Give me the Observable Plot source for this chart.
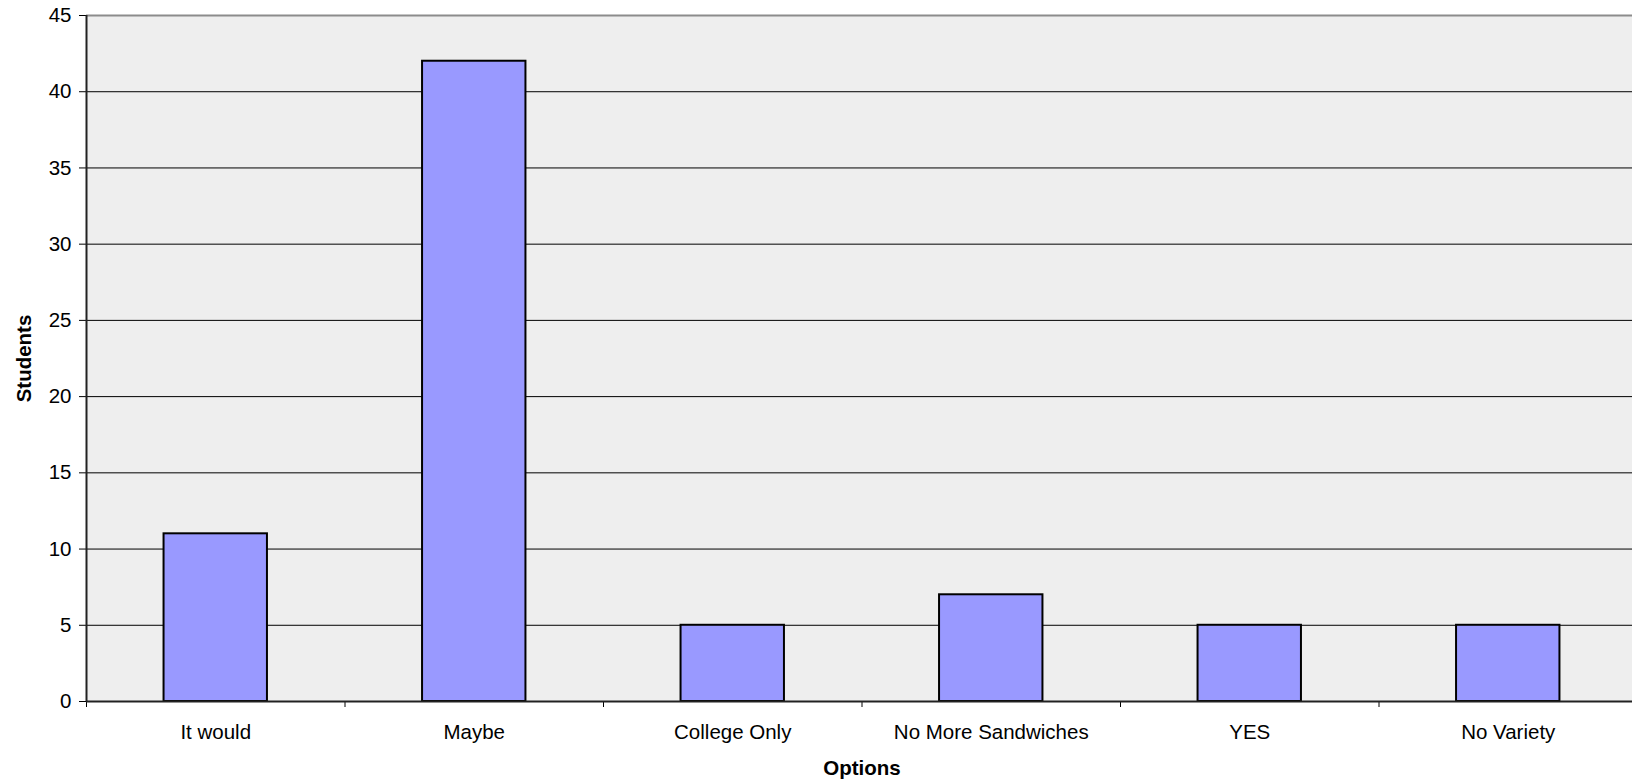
<!DOCTYPE html>
<html><head><meta charset="utf-8">
<script src="https://cdn.jsdelivr.net/npm/d3@7"></script>
<script src="https://cdn.jsdelivr.net/npm/@observablehq/plot@0.6"></script>
<style>html,body{margin:0;padding:0;background:#fff;overflow:hidden;} svg{max-width:none !important;}</style>
</head><body><div id="chart"></div>
<script>
const categories = ["It would", "Maybe", "College Only", "No More Sandwiches", "YES", "No Variety"];
const students = [11, 42, 5, 7, 5, 5];
const yTicks = [0, 5, 10, 15, 20, 25, 30, 35, 40, 45];
const gridValues = [5, 10, 15, 20, 25, 30, 35, 40];
const xLabel = "Options";
const yLabel = "Students";

const data = categories.map((c, i) => ({category: c, index: i, students: students[i]}));
const boundaries = d3.range(categories.length + 1);
const centers = categories.map((c, i) => i + 0.5);
const fs = 20.5;

const chart = Plot.plot({
  width: 1640, height: 783,
  marginTop: 15, marginBottom: 82, marginLeft: 86, marginRight: 3,
  style: {fontFamily: "'Liberation Sans', Arial, sans-serif", fontSize: fs + "px", background: "#fff", color: "#000", overflow: "visible", maxWidth: "none"},
  x: {type: "linear", domain: [0, categories.length], axis: null},
  y: {domain: [0, 45], axis: null},
  marks: [
    Plot.frame({fill: "#eeeeee", stroke: "none"}),
    Plot.ruleY(gridValues, {stroke: "#000", strokeWidth: 1}),
    Plot.rectY(data, {x1: d => d.index + 0.3, x2: d => d.index + 0.7, y: "students", fill: "#9999ff", stroke: "#000", strokeWidth: 2}),
    Plot.ruleY([45], {stroke: "#8c8c8c", strokeWidth: 2}),
    Plot.axisY({ticks: yTicks, tickSize: 7, tickPadding: 8, label: null, fontSize: fs}),
    Plot.axisX({ticks: boundaries, tickSize: 6, tickFormat: () => "", label: null}),
    Plot.axisX({ticks: centers, tickSize: 0, tickPadding: 23, tickFormat: v => categories[Math.floor(v)], label: null, fontSize: fs}),
    Plot.ruleX([0], {stroke: "#222", strokeWidth: 2}),
    Plot.ruleY([0], {stroke: "#222", strokeWidth: 2}),
    Plot.text([yLabel], {text: d => d, frameAnchor: "left", dx: -62, rotate: -90, fontWeight: "bold", textAnchor: "middle", lineAnchor: "middle", fontSize: fs}),
    Plot.text([xLabel], {text: d => d, frameAnchor: "bottom", dy: 67, fontWeight: "bold", lineAnchor: "middle", fontSize: fs})
  ]
});
document.getElementById("chart").appendChild(chart);
</script>
</body></html>
